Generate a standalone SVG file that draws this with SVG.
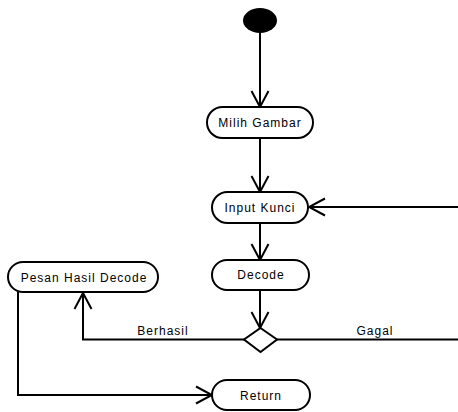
<svg xmlns="http://www.w3.org/2000/svg" width="458" height="412" viewBox="0 0 458 412">
<defs>
<style>
.n{fill:#fff;stroke:#000;stroke-width:2}
.t{font-family:"Liberation Sans",Arial,sans-serif;font-size:12px;letter-spacing:1px;text-anchor:middle;fill:#000}
.c{fill:none;stroke:#000;stroke-width:2}
</style>
<marker id="a" markerUnits="userSpaceOnUse" viewBox="-18 -10 20 20" refX="0" refY="0" markerWidth="20" markerHeight="20" orient="auto">
<path d="M-16,-8.5 L0,0 L-16,8.5" fill="none" stroke="#000" stroke-width="2"/>
</marker>
</defs>
<g id="connectors">
<path class="c" d="M260 33 V107" marker-end="url(#a)"/>
<path class="c" d="M260 138 V192" marker-end="url(#a)"/>
<path class="c" d="M260 223 V260" marker-end="url(#a)"/>
<path class="c" d="M260 290 V328" marker-end="url(#a)"/>
<path class="c" d="M244 339.5 H83 V293" marker-end="url(#a)"/>
<path class="c" d="M277 339.5 H462 V207 H309" marker-end="url(#a)"/>
<path class="c" d="M18 292 V395 H212" marker-end="url(#a)"/>
<text class="t" x="163" y="335">Berhasil</text>
<text class="t" x="375" y="335">Gagal</text>
</g>
<g id="start"><ellipse cx="260" cy="20.5" rx="17" ry="12.5" fill="#000"/></g>
<g id="milih"><rect class="n" x="207" y="107" width="106" height="31" rx="15.5"/><text class="t" x="260" y="127">Milih Gambar</text></g>
<g id="input"><rect class="n" x="212" y="192" width="96" height="31" rx="15.5"/><text class="t" x="260" y="211.5">Input Kunci</text></g>
<g id="decode"><rect class="n" x="212" y="260" width="97" height="30" rx="15"/><text class="t" x="261" y="279">Decode</text></g>
<g id="decision"><polygon class="n" points="260.5,328 277,339.5 260.5,352 244,339.5"/></g>
<g id="pesan"><rect class="n" x="8" y="262" width="150" height="30" rx="15"/><text class="t" x="84" y="282">Pesan Hasil Decode</text></g>
<g id="return"><rect class="n" x="212" y="380" width="98" height="30" rx="15"/><text class="t" x="261" y="400">Return</text></g>
</svg>
